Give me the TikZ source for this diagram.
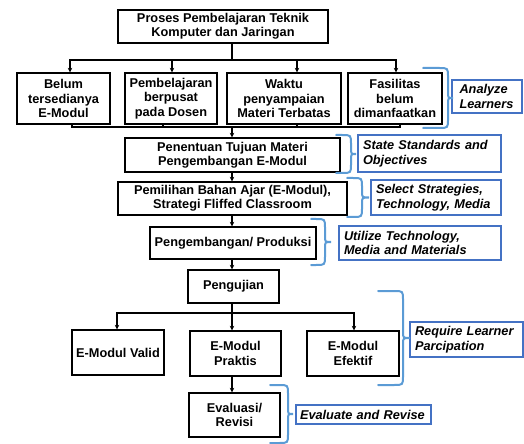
\documentclass[tikz,border=0pt]{standalone}
\usepackage{fontspec}
\setmainfont{Liberation Sans}
\usetikzlibrary{arrows.meta,calc}
\definecolor{bracecol}{HTML}{5B9BD5}
\definecolor{boxblue}{HTML}{4472C4}
\tikzset{
 bx/.style={draw=black, line width=1.3bp, inner sep=0pt, align=center, font=\bfseries\fontsize{12.8}{14.5}\selectfont},
 bb/.style={draw=boxblue, line width=1.8bp, inner sep=0pt, align=left, font=\bfseries\itshape\fontsize{12.8}{14.5}\selectfont},
 ln/.style={line width=1.3bp},
 arr/.style={ln, -{Stealth[length=4.5bp,width=4.5bp]}},
 br/.style={draw=bracecol, line width=2bp, line cap=round}
}
\newcommand{\rbr}[5]{%
 \draw[br] (#1,#4) -- ({#2-9},#4) .. controls (#2,#4) .. (#2,{#4+9}) -- (#2,{(#4+#5)/2-6}) .. controls (#2,{(#4+#5)/2}) .. (#3,{(#4+#5)/2}) .. controls (#2,{(#4+#5)/2}) .. (#2,{(#4+#5)/2+6}) -- (#2,{#5-9}) .. controls (#2,#5) .. ({#2-9},#5) -- (#1,#5);
}
\begin{document}
\begin{tikzpicture}[x=1bp,y=-1bp]
\useasboundingbox (0,0) rectangle (524,444);
% black boxes
\node[bx, minimum width=210bp, minimum height=33bp] (top) at (223,26.5) {Proses Pembelajaran Teknik\\Komputer dan Jaringan};
\node[bx, minimum width=93bp, minimum height=51bp] (b1) at (63.5,98.5) {Belum\\tersedianya\\E-Modul};
\node[bx, minimum width=92bp, minimum height=51bp] (b2) at (171,98.5) {Pembelajaran\\berpusat\\pada Dosen};
\node[bx, minimum width=114bp, minimum height=51bp] (b3) at (284,98.5) {Waktu\\penyampaian\\Materi Terbatas};
\node[bx, minimum width=94bp, minimum height=51bp] (b4) at (395,98.5) {Fasilitas\\belum\\dimanfaatkan};
\node[bx, minimum width=215bp, minimum height=34bp] (pen) at (232.5,155) {Penentuan Tujuan Materi\\Pengembangan E-Modul};
\node[bx, minimum width=229bp, minimum height=33bp] (pem) at (232.5,198.5) {Pemilihan Bahan Ajar (E-Modul),\\Strategi Fliffed Classroom};
\node[bx, minimum width=166bp, minimum height=32bp] (peng) at (233,243) {Pengembangan/ Produksi};
\node[bx, minimum width=91bp, minimum height=33bp] (uji) at (233.5,286.5) {Pengujian};
\node[bx, minimum width=92bp, minimum height=45bp] (val) at (118,352.5) {E-Modul Valid};
\node[bx, minimum width=91bp, minimum height=45bp] (pra) at (235.5,353.5) {E-Modul\\Praktis};
\node[bx, minimum width=92bp, minimum height=45bp] (efe) at (353,353.5) {E-Modul\\Efektif};
\node[bx, minimum width=91bp, minimum height=44bp] (eva) at (234.5,415) {Evaluasi/\\Revisi};
% blue boxes
\node[bb, minimum width=70bp, minimum height=33bp, text width=55bp] (al) at (487,96.5) {Analyze\\Learners};
\node[bb, minimum width=143bp, minimum height=37bp, text width=133bp] (ss) at (429.5,153.5) {State Standards and\\Objectives};
\node[bb, minimum width=130bp, minimum height=35bp, text width=120bp] (st) at (436,197.5) {Select Strategies,\\Technology, Media};
\node[bb, minimum width=162bp, minimum height=34bp, text width=152bp] (ut) at (420,243) {Utilize Technology,\\Media and Materials};
\node[bb, minimum width=113bp, minimum height=35bp, text width=103bp] (rq) at (466.5,339.5) {Require Learner\\Parcipation};
\node[bb, minimum width=135bp, minimum height=19bp, text width=127bp] (ev) at (363.5,414.5) {Evaluate and Revise};
% connectors
\coordinate (j1) at (232,60);
\draw[ln] (top.south -| j1) -- (j1);
\draw[arr] (j1) -| ([xshift=6.5bp]b1.north);
\draw[arr] (j1) -| ([xshift=1bp]b2.north);
\draw[arr] (j1) -| ([xshift=13bp]b3.north);
\draw[arr] (j1) -| ([xshift=1bp]b4.north);
\coordinate (j2) at (232,127);
\draw[ln] ([xshift=8.5bp]b1.south) |- (j2);
\draw[ln] ([xshift=-8bp]b2.south) |- (j2);
\draw[ln] ([xshift=13bp]b3.south) |- (j2);
\draw[ln] ([xshift=5bp]b4.south) |- (j2);
\draw[arr] (j2) -- (pen.north -| j2);
\draw[arr] (pen.south -| j2) -- (pem.north -| j2);
\draw[arr] (pem.south -| j2) -- (peng.north -| j2);
\draw[arr] (peng.south -| j2) -- (uji.north -| j2);
\coordinate (j3) at (232,313);
\draw[ln] (uji.south -| j3) -- (j3);
\draw[arr] (j3) -| ([xshift=-1bp]val.north);
\draw[arr] (j3) -- (pra.north -| j3);
\draw[arr] (j3) -| ([xshift=1bp]efe.north);
\draw[arr] (pra.south -| j3) -- (eva.north -| j3);
% braces
\rbr{423}{448}{453}{68}{128}
\rbr{336}{351}{356}{135}{173}
\rbr{347}{362}{369}{178}{217}
\rbr{311}{325}{331}{219}{265}
\rbr{378}{403}{410}{291}{385}
\rbr{270}{288}{293}{385}{443}
\end{tikzpicture}
\end{document}
